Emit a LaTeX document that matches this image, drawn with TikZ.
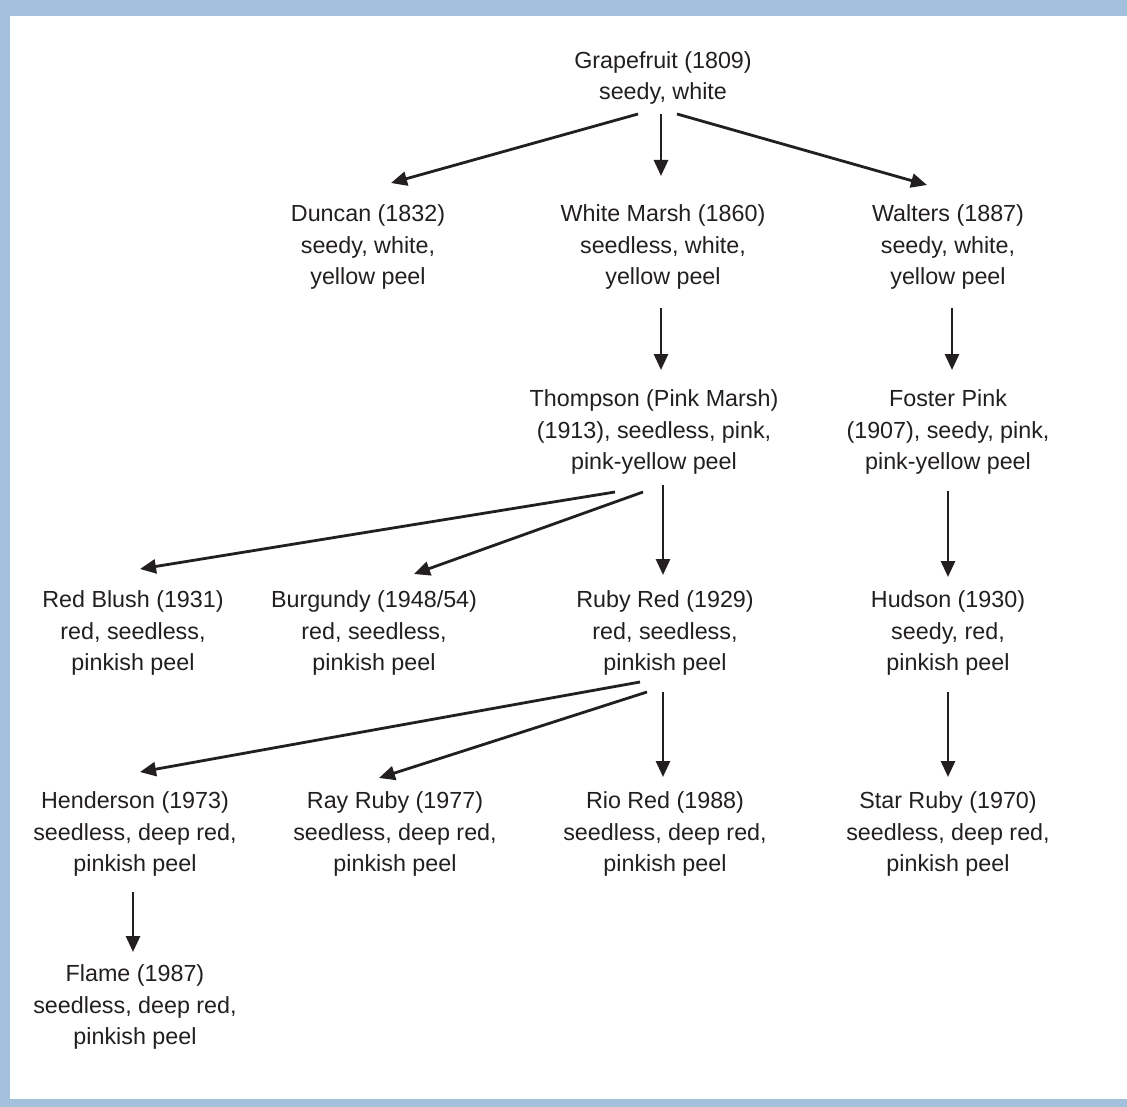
\documentclass[tikz,border=0pt]{standalone}
\usepackage{fontspec}
\setmainfont{Liberation Sans}
\usetikzlibrary{arrows.meta}
\definecolor{frameblue}{RGB}{163,193,221}
\definecolor{ink}{RGB}{35,31,32}
\begin{document}
\begin{tikzpicture}[x=1pt,y=-1pt,
  lbl/.style={align=center,inner sep=0pt,text=ink,font=\fontsize{23.3}{31.3}\selectfont},
  arr/.style={draw=ink,line width=2.8pt,-{Triangle[length=16pt,width=14pt]}}]
\fill[frameblue] (0,0) rectangle (1127,1107);
\fill[white] (10,16) rectangle (1127,1099);
\useasboundingbox (0,0) rectangle (1127,1107);
% nodes
\node[lbl] (gf) at (663,78) {Grapefruit (1809)\\seedy, white};
\node[lbl] (dun) at (368,247) {Duncan (1832)\\seedy, white,\\yellow peel};
\node[lbl] (wm) at (663,247) {White Marsh (1860)\\seedless, white,\\yellow peel};
\node[lbl] (wal) at (948,247) {Walters (1887)\\seedy, white,\\yellow peel};
\node[lbl] (tho) at (654,432) {Thompson (Pink Marsh)\\(1913), seedless, pink,\\pink-yellow peel};
\node[lbl] (fos) at (948,432) {Foster Pink\\(1907), seedy, pink,\\pink-yellow peel};
\node[lbl] (rb) at (133,633) {Red Blush (1931)\\red, seedless,\\pinkish peel};
\node[lbl] (bur) at (374,633) {Burgundy (1948/54)\\red, seedless,\\pinkish peel};
\node[lbl] (rr) at (665,633) {Ruby Red (1929)\\red, seedless,\\pinkish peel};
\node[lbl] (hud) at (948,633) {Hudson (1930)\\seedy, red,\\pinkish peel};
\node[lbl] (hen) at (135,834) {Henderson (1973)\\seedless, deep red,\\pinkish peel};
\node[lbl] (ray) at (395,834) {Ray Ruby (1977)\\seedless, deep red,\\pinkish peel};
\node[lbl] (rio) at (665,834) {Rio Red (1988)\\seedless, deep red,\\pinkish peel};
\node[lbl] (star) at (948,834) {Star Ruby (1970)\\seedless, deep red,\\pinkish peel};
\node[lbl] (fla) at (135,1007) {Flame (1987)\\seedless, deep red,\\pinkish peel};
% connectors
\draw[arr] ([shift={(-25,36)}]gf.center) -- ([shift={(23,-64)}]dun.center);
\draw[arr] ([shift={(-2,36)}]gf.center) -- ([shift={(-2,-71)}]wm.center);
\draw[arr] ([shift={(14,36)}]gf.center) -- ([shift={(-21,-62)}]wal.center);
\draw[arr] ([shift={(-2,61)}]wm.center) -- ([shift={(7,-62)}]tho.center);
\draw[arr] ([shift={(4,61)}]wal.center) -- ([shift={(4,-62)}]fos.center);
\draw[arr] ([shift={(-39,60)}]tho.center) -- ([shift={(7,-64)}]rb.center);
\draw[arr] ([shift={(-11,60)}]tho.center) -- ([shift={(40,-59)}]bur.center);
\draw[arr] ([shift={(9,53)}]tho.center) -- ([shift={(-2,-58)}]rr.center);
\draw[arr] ([shift={(0,59)}]fos.center) -- ([shift={(0,-56)}]hud.center);
\draw[arr] ([shift={(-25,49)}]rr.center) -- ([shift={(5,-62)}]hen.center);
\draw[arr] ([shift={(-18,59)}]rr.center) -- ([shift={(-16,-56)}]ray.center);
\draw[arr] ([shift={(-2,59)}]rr.center) -- ([shift={(-2,-57)}]rio.center);
\draw[arr] ([shift={(0,59)}]hud.center) -- ([shift={(0,-57)}]star.center);
\draw[arr] ([shift={(-2,58)}]hen.center) -- ([shift={(-2,-55)}]fla.center);
\end{tikzpicture}
\end{document}
